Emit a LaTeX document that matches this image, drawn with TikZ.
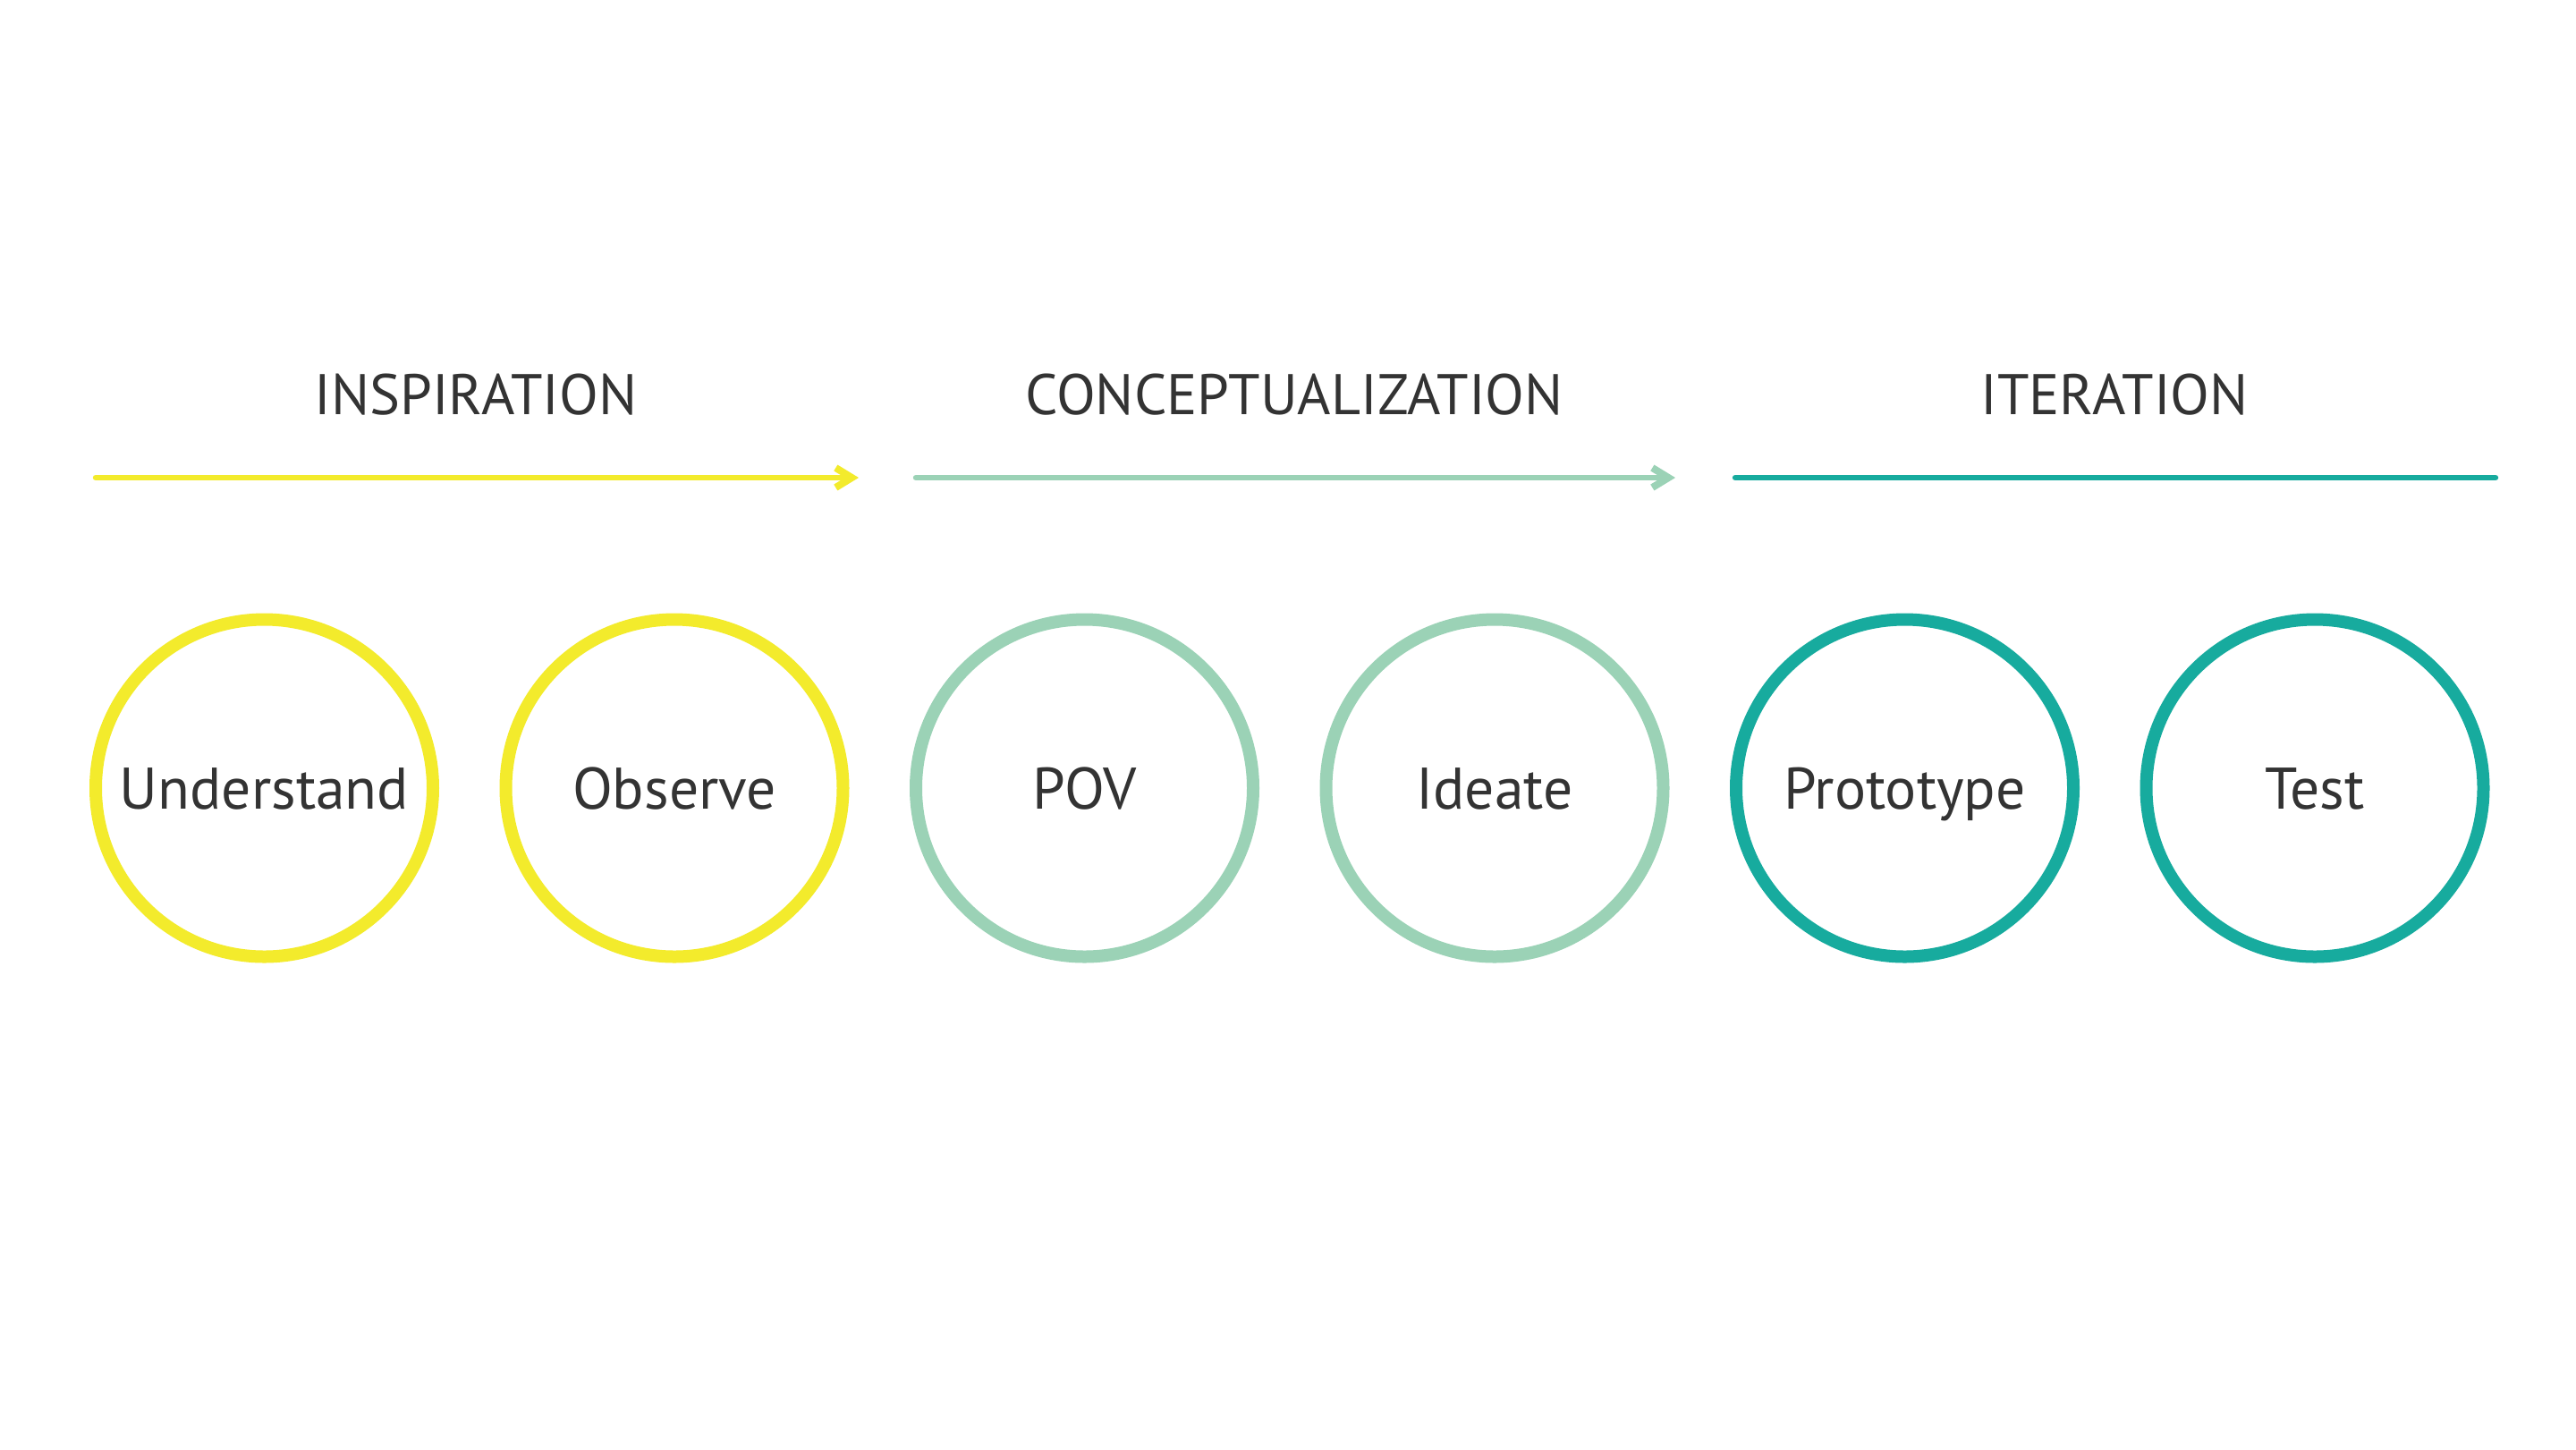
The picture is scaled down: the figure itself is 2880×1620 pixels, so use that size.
\documentclass[tikz,border=0pt]{standalone}
\usepackage{fontspec}
\setmainfont{PT Sans}
\usetikzlibrary{arrows.meta}
\definecolor{ink}{HTML}{333333}
\definecolor{cyellow}{HTML}{F3EB2C}
\definecolor{cgreen}{HTML}{9BD2B6}
\definecolor{cteal}{HTML}{17AB9E}
\begin{document}
\begin{tikzpicture}[x=0.25pt,y=-0.25pt,
  phase/.style={font=\fontsize{16}{19}\selectfont, text=ink, anchor=base},
  stage/.style={circle, draw=#1, line width=3.5pt, minimum size=94.25pt, inner sep=0pt,
    font=\fontsize{16.4}{20}\selectfont, text=ink, text height=11.5pt, text depth=0pt},
  bar/.style={draw=#1, line width=1.6pt, line cap=round},
  tipped/.style={-{Straight Barb[length=4.5pt,width=5.5pt,line width=2pt]}}
]
\useasboundingbox (0,0) rectangle (2880,1620);
\fill[white] (0,0) rectangle (2880,1620);

% phase titles
\node[phase] (t1) at (532,463) {INSPIRATION};
\node[phase] (t2) at (1447,463) {CONCEPTUALIZATION};
\node[phase] (t3) at (2364,463) {ITERATION};

% phase bars
\coordinate (a1) at (107,534);
\coordinate (b1) at (960,534);
\coordinate (a2) at (1024,534);
\coordinate (b2) at (1873,534);
\coordinate (a3) at (1940,534);
\coordinate (b3) at (2790,534);
\draw[bar=cyellow, tipped] (a1) -- (b1);
\draw[bar=cgreen, tipped] (a2) -- (b2);
\draw[bar=cteal] (a3) -- (b3);

% stages
\node[stage=cyellow] (s1) at (295.5,881) {Understand};
\node[stage=cyellow] (s2) at (754,881) {Observe};
\node[stage=cgreen] (s3) at (1212.5,881) {POV};
\node[stage=cgreen] (s4) at (1671,881) {Ideate};
\node[stage=cteal] (s5) at (2129.5,881) {Prototype};
\node[stage=cteal] (s6) at (2588,881) {Test};
\end{tikzpicture}
\end{document}
